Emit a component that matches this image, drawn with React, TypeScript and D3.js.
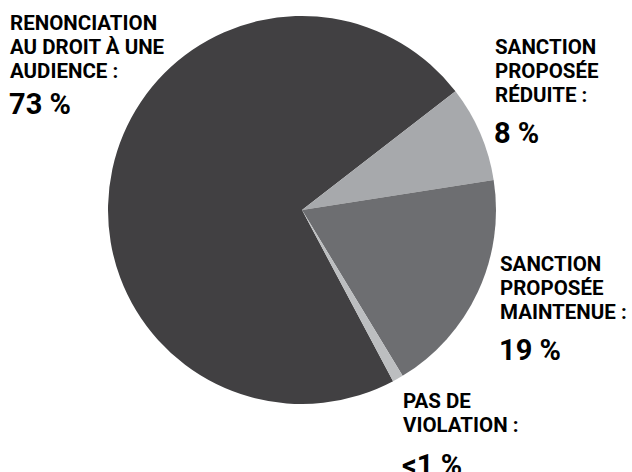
import React from "react";
import * as d3 from "d3";

const categories = ["Renonciation au droit à une audience", "Sanction proposée réduite", "Sanction proposée maintenue", "Pas de violation"];
const values = [72.3, 8.0, 18.8, 0.9];
const colors = ["#414042", "#a7a9ac", "#6d6e71", "#bcbec0"];
const labelLines = [
  ["RENONCIATION", "AU DROIT À UNE", "AUDIENCE :"],
  ["SANCTION", "PROPOSÉE", "RÉDUITE :"],
  ["SANCTION", "PROPOSÉE", "MAINTENUE :"],
  ["PAS DE", "VIOLATION :"],
];
const pctLabels = ["73 %", "8 %", "19 %", "<1 %"];

const W = 632, H = 472;
const cx = 302, cy = 210, R = 194;
const startDeg = 152;

const labelPos = [
  { x: 10, y: 30, p: 114 },
  { x: 495, y: 54, p: 143 },
  { x: 500, y: 271, p: 360 },
  { x: 403, y: 408, p: 475 },
];

export default function App() {
  const pie = d3.pie<number>().sort(null)
    .startAngle((startDeg * Math.PI) / 180)
    .endAngle(((startDeg + 360) * Math.PI) / 180);
  const arcs = pie(values);
  const arc = d3.arc<d3.PieArcDatum<number>>().innerRadius(0).outerRadius(R);
  const font = "Roboto, 'DejaVu Sans Condensed', sans-serif";
  return (
    <svg width={W} height={H} style={{ position: "absolute", left: 0, top: 0, background: "#fff" }}>
      <g transform={`translate(${cx},${cy})`}>
        {arcs.map((a, i) => (
          <path key={categories[i]} d={arc(a) || ""} fill={colors[i]} />
        ))}
      </g>
      {labelLines.map((lines, i) => (
        <g key={i} fontFamily={font} fontWeight="bold" fill="#000">
          {lines.map((t, j) => (
            <text key={j} x={labelPos[i].x} y={labelPos[i].y + j * 24} fontSize={20.5}>{t}</text>
          ))}
          <text x={labelPos[i].x - 1} y={labelPos[i].p} fontSize={29}>{pctLabels[i]}</text>
        </g>
      ))}
    </svg>
  );
}
